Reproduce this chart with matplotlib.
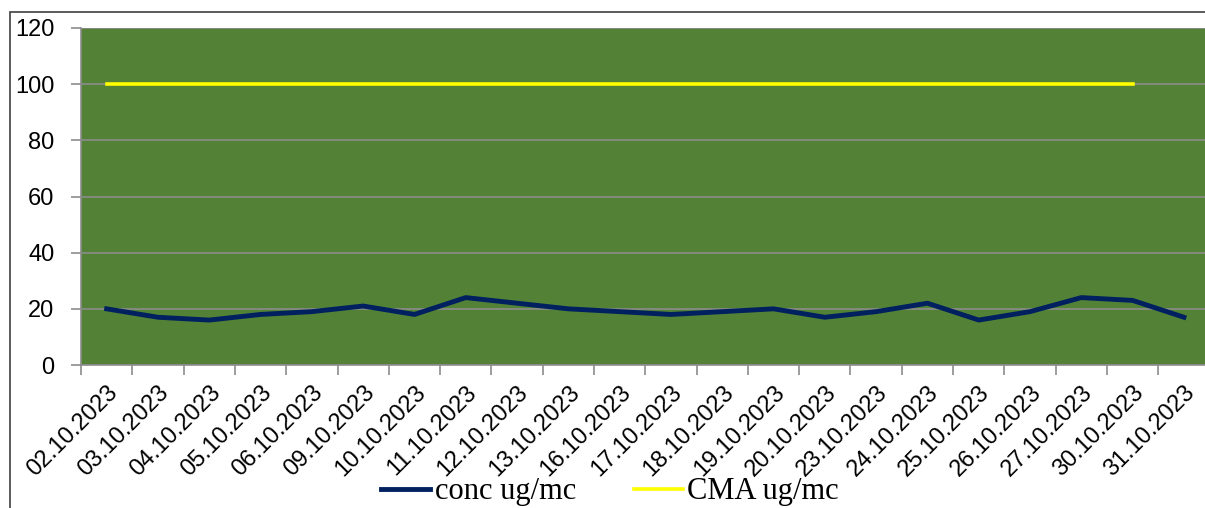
import matplotlib
matplotlib.use("Agg")
from matplotlib import pyplot as plt
from matplotlib.patches import Rectangle
import numpy as np

# dates on the x axis
dates = ["02.10.2023", "03.10.2023", "04.10.2023", "05.10.2023", "06.10.2023",
         "09.10.2023", "10.10.2023", "11.10.2023", "12.10.2023", "13.10.2023",
         "16.10.2023", "17.10.2023", "18.10.2023", "19.10.2023", "20.10.2023",
         "23.10.2023", "24.10.2023", "25.10.2023", "26.10.2023", "27.10.2023",
         "30.10.2023", "31.10.2023"]

# measured concentration
conc = [20, 17, 16, 18, 19, 21, 18, 24, 22, 20, 19,
        18, 19, 20, 17, 19, 22, 16, 19, 24, 23, 17]

# limit value (missing on the last day)
cma = [100] * 21 + [np.nan]

fig = plt.figure(figsize=(12.05, 5.08), dpi=100)

# outer chart border
fig.patches.append(Rectangle((10 / 1205, -0.1), 1.2, 1 - 12 / 508 + 0.1,
                             transform=fig.transFigure, fill=False,
                             edgecolor="#404040", linewidth=1.2))

ax = fig.add_axes([81 / 1205, (508 - 365) / 508, (1209.6 - 81) / 1205, 337 / 508])
ax.set_facecolor("#538135")

x = np.arange(len(dates))
ax.plot(x, conc, color="#002060", linewidth=3.5, label="conc ug/mc", zorder=3)
ax.plot(x, cma, color="#FFFF00", linewidth=2.6, label="CMA ug/mc", zorder=3)

ax.set_xlim(-0.5, len(dates) - 0.5)
ax.set_ylim(0, 120)
ax.set_yticks(range(0, 121, 20))
ax.yaxis.grid(True, color="#8C8C8C", linewidth=1.2)
ax.set_axisbelow(True)

ax.set_xticks(x)
ax.set_xticklabels(dates, rotation=45, ha="right", va="top",
                   rotation_mode="anchor", family="Liberation Sans", fontsize=17)
ax.tick_params(axis="x", which="major", length=0, pad=12)
ax.set_xticks(np.arange(-0.5, len(dates), 1), minor=True)
ax.tick_params(axis="x", which="minor", length=7, color="#8C8C8C", width=1.2)
ax.tick_params(axis="y", length=7, color="#8C8C8C", width=1.2, labelsize=17, pad=12)
for lab in ax.get_yticklabels():
    lab.set_family("Liberation Sans")

for s in ["top", "right"]:
    ax.spines[s].set_visible(False)
for s in ["left", "bottom"]:
    ax.spines[s].set_color("#8C8C8C")
    ax.spines[s].set_linewidth(1.2)

fig.legend(loc="center", bbox_to_anchor=(610 / 1205, 1 - 492 / 508), ncol=2,
           frameon=False, prop={"family": "Liberation Serif", "size": 22},
           handlelength=1.6, handletextpad=0.15, columnspacing=1.9)

plt.savefig("out.png", dpi=100)
